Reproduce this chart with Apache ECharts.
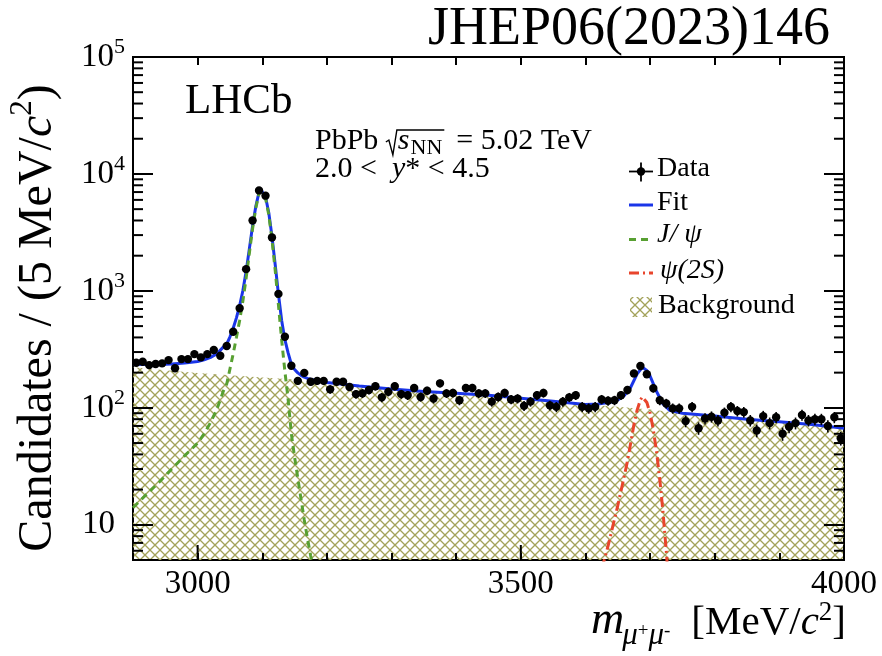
<!DOCTYPE html>
<html>
<head>
<meta charset="utf-8">
<script src="https://cdn.jsdelivr.net/npm/echarts@6/dist/echarts.min.js"></script>
<style>
  html, body { margin: 0; padding: 0; background: #fff; }
  #chart { width: 882px; height: 656px; }
</style>
</head>
<body>
<div id="chart"></div>
<script>
// Dimuon invariant-mass spectrum, PbPb collisions, 10 MeV bins from 2900 to 4000 MeV/c^2
const binLow = 2900;
const binWidth = 10;
const counts = [
  243, 248, 232, 237, 240, 256, 218, 261, 261, 288,
  270, 288, 312, 279, 338, 448, 711, 1535, 4000, 7230,
  6520, 2863, 943, 406, 229, 170, 199, 167, 170, 170,
  144, 167, 167, 151, 131, 133, 142, 153, 123, 137,
  153, 131, 128, 148, 124, 140, 120, 162, 133, 134,
  116, 148, 148, 133, 133, 113, 124, 134, 118, 120,
  104, 113, 128, 134, 105, 102, 113, 123, 128, 102,
  99, 102, 118, 115, 116, 128, 142, 197, 228, 194,
  147, 116, 109, 99, 99, 77, 102, 67, 81, 84,
  78, 91, 102, 94, 92, 78, 64, 85, 74, 83,
  60, 69, 74, 87, 78, 80, 80, 70, 83, 55
];

// Total fit curve
const fitMass = [2900, 2920, 2940, 2960, 2980, 3000, 3010, 3020, 3030, 3040,
  3045, 3050, 3055, 3060, 3065, 3070, 3075, 3080, 3085, 3090,
  3095, 3098, 3100, 3105, 3110, 3115, 3120, 3125, 3130, 3135,
  3140, 3145, 3150, 3155, 3160, 3165, 3170, 3175, 3180, 3185,
  3200, 3250, 3300, 3350, 3400, 3450, 3500, 3550, 3600, 3620,
  3640, 3650, 3660, 3670, 3680, 3688, 3695, 3700, 3710, 3720,
  3730, 3750, 3800, 3850, 3900, 3950, 4000];
const fitVal = [236, 235, 235, 237, 242, 249, 257, 270, 291, 332,
  351, 405, 479, 588, 748, 1007, 1466, 2286, 3585, 5284,
  6983, 7332, 7232, 6381, 4681, 2930, 1679, 939, 558, 383,
  295, 236, 213, 199, 189.5, 183, 178.6, 175.4, 172.9, 170.9,
  165, 154, 145, 138, 133, 128, 121, 114, 107, 108,
  112, 117, 127, 150, 195, 222, 209, 187, 138, 108,
  95.5, 90, 85, 80, 76, 72, 67];

// J/psi signal component
const jpsiMass = [2900, 2920, 2940, 2960, 2980, 3000, 3010, 3020, 3030, 3040,
  3045, 3050, 3055, 3060, 3065, 3070, 3075, 3080, 3085, 3090,
  3095, 3098, 3100, 3105, 3110, 3115, 3120, 3125, 3130, 3135,
  3140, 3145, 3150, 3155, 3160, 3165, 3170, 3175, 3180, 3185];
const jpsiVal = [14, 18, 23, 30, 39, 50, 60, 75, 98, 140,
  160, 215, 290, 400, 560, 820, 1280, 2100, 3400, 5100,
  6800, 7150, 7050, 6200, 4500, 2750, 1500, 760, 380, 205,
  118, 60, 38, 25, 16.5, 11, 7.6, 5.4, 3.9, 2.9];

// psi(2S) signal component
const psiMass = [3625, 3630, 3635, 3640, 3645, 3650, 3655, 3660, 3665, 3670,
  3675, 3680, 3685, 3688, 3690, 3695, 3700, 3705, 3710, 3715,
  3720, 3725, 3730, 3735];
const psiVal = [4.2, 5.2, 6.6, 8.6, 11.2, 14.6, 19.5, 26, 35, 50,
  72, 96, 117, 124, 123, 111, 90, 65, 42, 24.5,
  12.8, 6, 2.5, 1];

// Combinatorial background component
const bkgMass = [2900, 2950, 3000, 3050, 3100, 3150, 3200, 3250, 3300, 3350,
  3400, 3450, 3500, 3550, 3600, 3650, 3700, 3750, 3800, 3850,
  3900, 3950, 4000];
const bkgVal = [222, 210, 199, 190, 182, 175, 165, 154, 145, 138,
  133, 128, 121, 114, 107, 102, 97, 90, 85, 80,
  76, 72, 67];

// Axis ranges and ticks
const xMin = 2900, xMax = 4000;
const yMin = 5, yMax = 100000;
const xLabelValues = [3000, 3500, 4000];
const xMajorTicks = [3000, 3500, 4000];
const yMinorTicks = [6, 7, 8, 9, 20, 30, 40, 50, 60, 70, 80, 90,
  200, 300, 400, 500, 600, 700, 800, 900,
  2000, 3000, 4000, 5000, 6000, 7000, 8000, 9000,
  20000, 30000, 40000, 50000, 60000, 70000, 80000, 90000];

const serif = '"Liberation Serif", "Times New Roman", serif';
const colFit = '#1a35e8';
const colJpsi = '#58a032';
const colPsi = '#e8452c';
const colHatch = '#a3a25a';

function makeHatch() {
  const c = document.createElement('canvas');
  c.width = 10; c.height = 10;
  const g = c.getContext('2d');
  g.strokeStyle = colHatch;
  g.lineWidth = 1.35;
  g.beginPath();
  g.moveTo(-2, -2); g.lineTo(12, 12);
  g.moveTo(12, -2); g.lineTo(-2, 12);
  g.stroke();
  return c;
}
const hatch = { image: makeHatch(), repeat: 'repeat' };

const zip = (a, b) => a.map((v, i) => [v, b[i]]);
const dataPoints = counts.map((n, i) => [binLow + binWidth * (i + 0.5), n]);

const chart = echarts.init(document.getElementById('chart'), null, { renderer: 'canvas' });

const option = {
  animation: false,
  backgroundColor: '#fff',
  grid: { left: 133, right: 38, top: 57, bottom: 96, show: true, borderColor: '#000', borderWidth: 2, backgroundColor: 'transparent' },
  xAxis: [
    {
      type: 'value', min: xMin, max: xMax, interval: 100, position: 'bottom', z: 10,
      axisLine: { show: false }, splitLine: { show: false },
      axisTick: { show: true, inside: true, length: 7, lineStyle: { color: '#000', width: 2 } },
      axisLabel: { show: true, margin: 8, color: '#000', fontFamily: serif, fontSize: 33,
        formatter: v => xLabelValues.includes(v) ? String(v) : '' }
    },
    {
      type: 'value', min: xMin, max: xMax, interval: 100, position: 'top', z: 10,
      axisLine: { show: false }, splitLine: { show: false },
      axisTick: { show: true, inside: true, length: 8, lineStyle: { color: '#000', width: 2 } },
      axisLabel: { show: false }
    }
  ],
  yAxis: [
    {
      type: 'log', logBase: 10, min: yMin, max: yMax, position: 'left', z: 10,
      axisLine: { show: false }, splitLine: { show: false },
      axisTick: { show: true, inside: true, length: 20, lineStyle: { color: '#000', width: 2 } },
      axisLabel: {
        show: true, margin: 8, color: '#000', fontFamily: serif, fontSize: 33,
        formatter: v => {
          const k = Math.log10(v);
          const r = Math.round(k);
          if (Math.abs(k - r) > 1e-6) return '';
          return r === 1 ? '{p|10}' : '{b|10}{s|' + r + '}';
        },
        rich: {
          p: { fontFamily: serif, fontSize: 33, lineHeight: 42, color: '#000', padding: [0, 10, 0, 0] },
          b: { fontFamily: serif, fontSize: 33, lineHeight: 42, color: '#000' },
          s: { fontFamily: serif, fontSize: 22, lineHeight: 22, verticalAlign: 'top', color: '#000' }
        }
      }
    },
    {
      type: 'log', logBase: 10, min: yMin, max: yMax, position: 'right', z: 10,
      axisLine: { show: false }, splitLine: { show: false },
      axisTick: { show: true, inside: true, length: 20, lineStyle: { color: '#000', width: 2 } },
      axisLabel: { show: false }
    }
  ],
  series: [
    {
      name: 'Background', type: 'line', data: zip(bkgMass, bkgVal), showSymbol: false, symbol: 'none',
      lineStyle: { width: 0, opacity: 0 }, areaStyle: { color: hatch, origin: 'start', opacity: 1 }, z: 1
    },
    {
      name: 'Fit', type: 'line', data: zip(fitMass, fitVal), symbol: 'none',
      lineStyle: { color: colFit, width: 3 }, z: 3
    },
    {
      name: 'J/psi', type: 'line', data: zip(jpsiMass, jpsiVal), symbol: 'none',
      lineStyle: { color: colJpsi, width: 3, type: [7, 5] }, z: 4
    },
    {
      name: 'psi(2S)', type: 'line', data: zip(psiMass, psiVal), symbol: 'none',
      lineStyle: { color: colPsi, width: 3, type: [10, 4, 2, 4] }, z: 4
    },
    {
      name: 'Data', type: 'custom', data: dataPoints, z: 6,
      encode: { x: 0, y: 1 },
      renderItem: (params, api) => {
        const m = api.value(0), n = api.value(1);
        const err = Math.sqrt(n);
        const p = api.coord([m, n]);
        const hi = api.coord([m, n + err]);
        const lo = api.coord([m, n - err]);
        const l = api.coord([m - binWidth / 2, n]);
        const r = api.coord([m + binWidth / 2, n]);
        return {
          type: 'group',
          children: [
            { type: 'line', shape: { x1: p[0], y1: hi[1], x2: p[0], y2: lo[1] }, style: { stroke: '#000', lineWidth: 1.6 } },
            { type: 'line', shape: { x1: l[0], y1: p[1], x2: r[0], y2: p[1] }, style: { stroke: '#000', lineWidth: 1.6 } },
            { type: 'circle', shape: { cx: p[0], cy: p[1], r: 4.2 }, style: { fill: '#000' } }
          ]
        };
      }
    }
  ]
};

chart.setOption(option);

// Extra tick marks and text placed through the axes' own scales
const px = v => chart.convertToPixel({ xAxisIndex: 0 }, v);
const py = v => chart.convertToPixel({ yAxisIndex: 0 }, v);
const gLeft = px(xMin), gRight = px(xMax), gBottom = py(yMin);

const tick = (x1, y1, x2, y2) => ({
  type: 'line', z: 100, shape: { x1, y1, x2, y2 }, style: { stroke: '#000', lineWidth: 2 }
});

const graphics = [];
yMinorTicks.forEach(v => {
  const y = py(v);
  graphics.push(tick(gLeft, y, gLeft + 10, y));
  graphics.push(tick(gRight, y, gRight - 10, y));
});
xMajorTicks.forEach(v => {
  const x = px(v);
  graphics.push(tick(x, gBottom, x, gBottom - 15));
});

// Text measurement for hand-laid formula pieces
const mctx = document.createElement('canvas').getContext('2d');
const tw = (s, size, italic) => {
  mctx.font = (italic ? 'italic ' : '') + size + 'px ' + serif;
  return mctx.measureText(s).width;
};
// Text piece placed by its alphabetic baseline
const piece = (x, base, text, size, italic, align) => ({
  type: 'text', x, y: base - 0.34 * size, z: 100,
  style: { text, fontFamily: serif, fontSize: size, fontStyle: italic ? 'italic' : 'normal', fill: '#000',
    align: align || 'left', verticalAlign: 'middle' }
});

// Journal reference
graphics.push(piece(830, 48, 'JHEP06(2023)146', 54, false, 'right'));
// Experiment label
graphics.push(piece(185, 116, 'LHCb', 43));

// Collision system: PbPb  sqrt(s_NN) = 5.02 TeV
const f1 = 30, base1 = 151, fnn = 22;
let cx = 315;
graphics.push(piece(cx, base1, 'PbPb', f1));
cx += tw('PbPb', f1) + tw(' ', f1);
const radX = cx;
const sX = radX + 12;
const nnX = sX + tw('s', f1, true) + 1;
const nnEnd = nnX + tw('NN', fnn);
const barY = base1 - 21;
graphics.push({
  type: 'polyline', z: 100,
  shape: { points: [[radX, base1 - 9], [radX + 3, base1 - 11], [radX + 7, base1 + 4], [radX + 11, barY], [nnEnd + 2, barY]] },
  style: { stroke: '#000', lineWidth: 1.4, fill: null }
});
graphics.push(piece(sX, base1, 's', f1, true));
graphics.push(piece(nnX, base1 + 5, 'NN', fnn));
graphics.push(piece(nnEnd + 14, base1, '= 5.02 TeV', f1));

// Rapidity range: 2.0 < y* < 4.5
const base2 = 179;
cx = 315;
graphics.push(piece(cx, base2, '2.0 <', f1));
cx += tw('2.0 <  ', f1);
graphics.push(piece(cx, base2, 'y', f1, true));
cx += tw('y', f1, true);
graphics.push(piece(cx, base2, '* < 4.5', f1));

// Axis titles
graphics.push({
  type: 'text', x: 38, y: 318, z: 100, rotation: Math.PI / 2,
  style: {
    text: 'Candidates / (5 MeV/{i|c}{s|2})', fontFamily: serif, fontSize: 48, lineHeight: 62, fill: '#000',
    align: 'center', verticalAlign: 'middle',
    rich: {
      i: { fontFamily: serif, fontSize: 48, fontStyle: 'italic', lineHeight: 62 },
      s: { fontFamily: serif, fontSize: 31, lineHeight: 31, verticalAlign: 'top' }
    }
  }
});

// x title: m_{mu+ mu-} [MeV/c^2], laid out from the right edge
const fx = 41, baseX = 637;
let rx = 846;
rx -= tw(']', fx);
graphics.push(piece(rx, baseX, ']', fx));
rx -= tw('2', 27);
graphics.push(piece(rx, baseX - 15, '2', 27));
rx -= tw('c', fx, true);
graphics.push(piece(rx, baseX, 'c', fx, true));
rx -= tw('[MeV/', fx);
graphics.push(piece(rx, baseX, '[MeV/', fx));
rx -= 21;
// subscript mu+ mu-
const fs = 31, fss = 19, baseS = baseX + 9;
rx -= tw('-', fss);
graphics.push(piece(rx, baseS - 9, '-', fss));
rx -= tw('μ', fs, true);
graphics.push(piece(rx, baseS, 'μ', fs, true));
rx -= tw('+', fss);
graphics.push(piece(rx, baseS - 9, '+', fss));
rx -= tw('μ', fs, true);
graphics.push(piece(rx, baseS, 'μ', fs, true));
rx -= tw('m', 46, true) - 2;
graphics.push(piece(rx, baseX, 'm', 46, true));

// Legend
const legX1 = 629, legX2 = 653, legText = 657, fl = 28;
graphics.push({ type: 'line', z: 100, shape: { x1: legX1, y1: 171.5, x2: legX2, y2: 171.5 }, style: { stroke: '#000', lineWidth: 1.8 } });
graphics.push({ type: 'line', z: 100, shape: { x1: 641, y1: 162.5, x2: 641, y2: 181.5 }, style: { stroke: '#000', lineWidth: 1.8 } });
graphics.push({ type: 'circle', z: 100, shape: { cx: 641, cy: 171.5, r: 4.2 }, style: { fill: '#000' } });
graphics.push(piece(legText, 178, 'Data', fl));

graphics.push({ type: 'line', z: 100, shape: { x1: legX1, y1: 205, x2: legX2, y2: 205 }, style: { stroke: colFit, lineWidth: 3 } });
graphics.push(piece(legText, 212, 'Fit', fl));

graphics.push({ type: 'line', z: 100, shape: { x1: legX1, y1: 239.5, x2: legX2, y2: 239.5 }, style: { stroke: colJpsi, lineWidth: 3, lineDash: [7, 5] } });
graphics.push(piece(legText, 244, 'J/ ψ', fl, true));

graphics.push({ type: 'line', z: 100, shape: { x1: legX1, y1: 273, x2: legX2, y2: 273 }, style: { stroke: colPsi, lineWidth: 3, lineDash: [10, 4, 2, 4] } });
graphics.push(piece(legText + 3, 280, 'ψ(2S)', fl, true));

graphics.push({ type: 'rect', z: 100, shape: { x: 630, y: 297, width: 22, height: 20 }, style: { fill: hatch } });
graphics.push(piece(legText + 1, 315, 'Background', fl));

chart.setOption({ graphic: graphics });
</script>
</body>
</html>
